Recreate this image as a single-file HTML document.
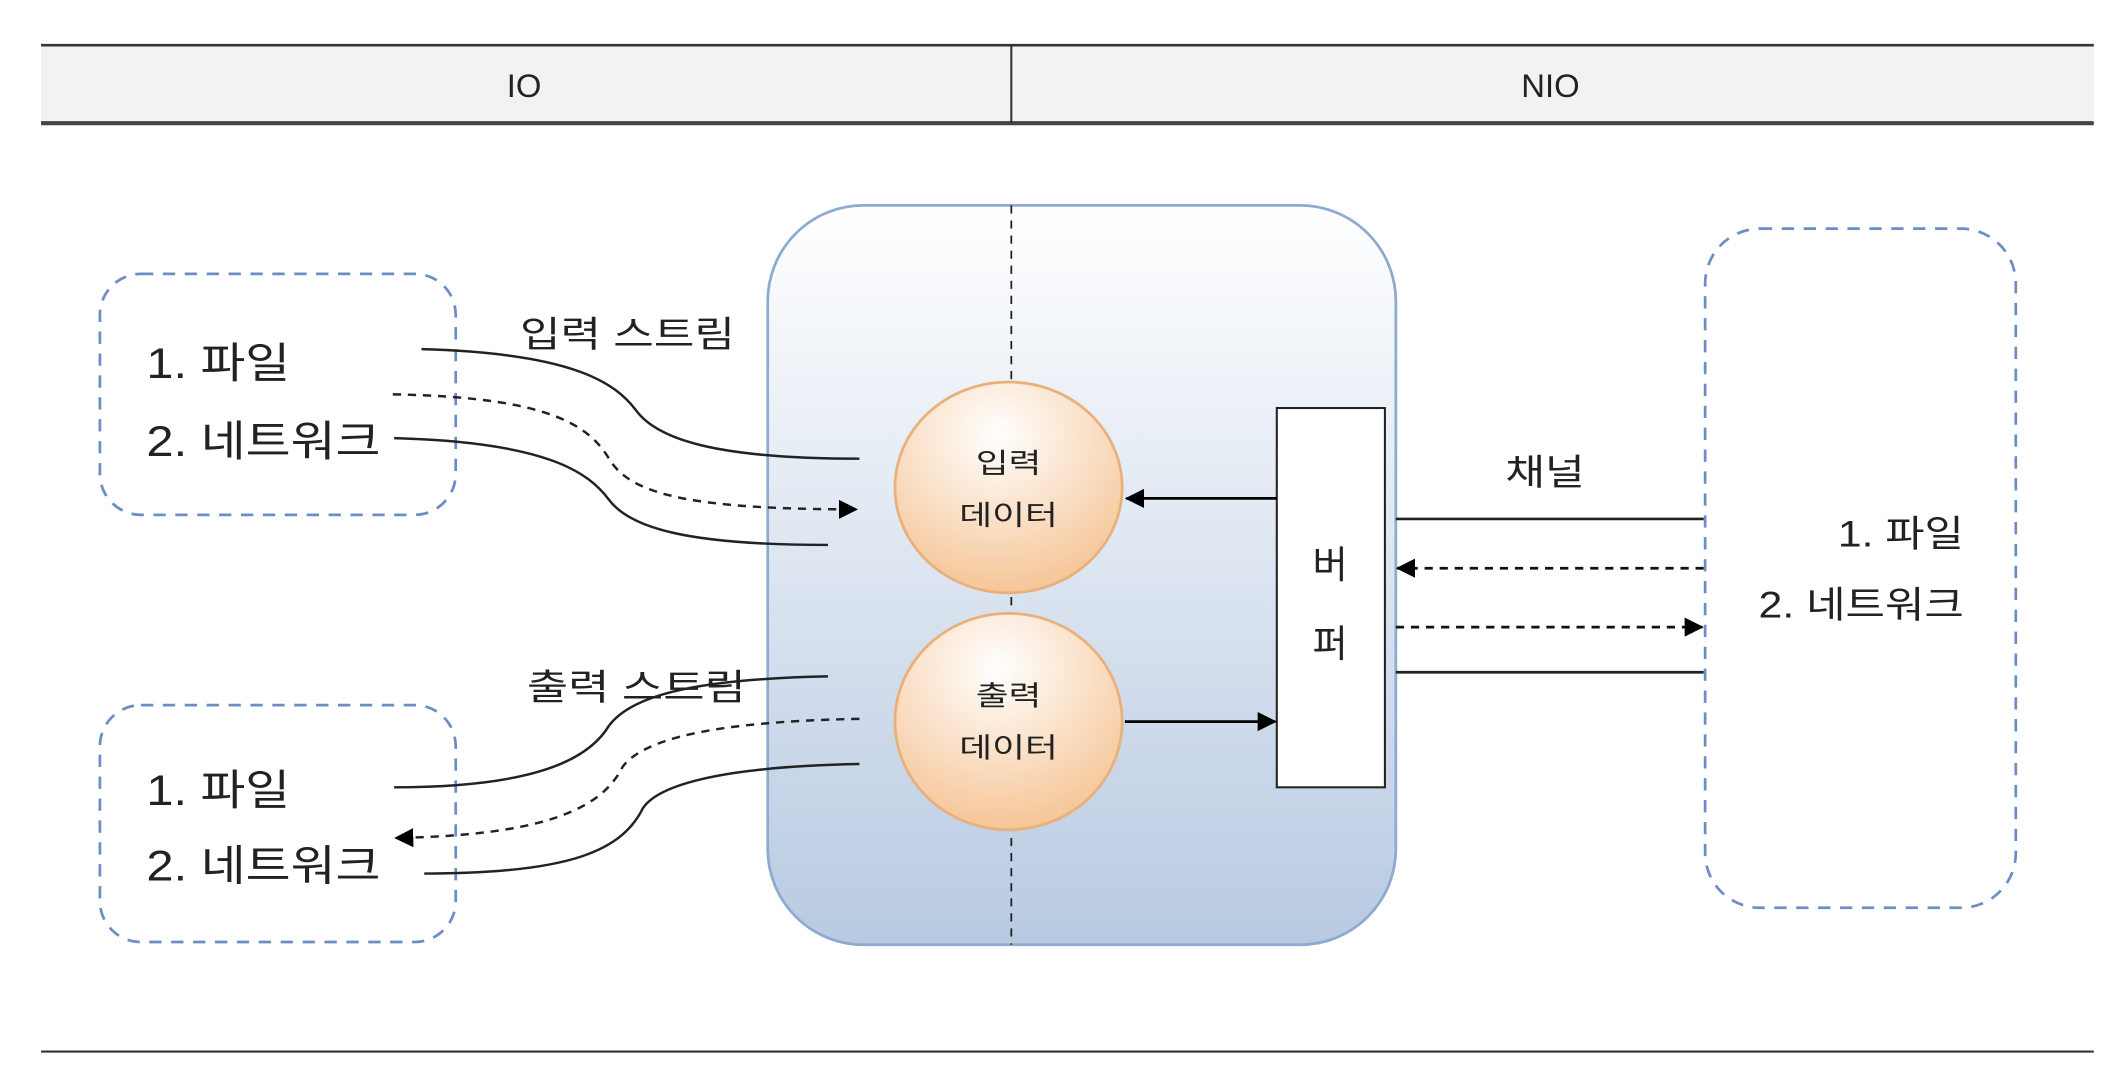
<!DOCTYPE html>
<html><head><meta charset="utf-8"><style>
html,body{margin:0;padding:0;background:#fff;}
svg{display:block;}
text{font-family:"Liberation Sans","Noto Sans CJK KR","NanumGothic",sans-serif;fill:#222;}
</style></head><body>
<svg width="2128" height="1068" viewBox="0 0 1555 780" preserveAspectRatio="none" xmlns="http://www.w3.org/2000/svg">
<defs>
<linearGradient id="bg" x1="0" y1="0" x2="0" y2="1">
<stop offset="0" stop-color="#ffffff"/><stop offset="1" stop-color="#b8cae2"/>
</linearGradient>
<radialGradient id="og" cx="0.45" cy="0.25" r="0.8">
<stop offset="0" stop-color="#ffffff"/><stop offset="1" stop-color="#f5c290"/>
</radialGradient>
<marker id="ah2" markerWidth="14" markerHeight="14" refX="13" refY="7" orient="auto" markerUnits="userSpaceOnUse">
<path d="M0,0 L14,7 L0,14 z" fill="#000"/>
</marker>
</defs>
<rect x="30" y="33" width="1500" height="58" fill="#f2f2f2"/>
<line x1="30" y1="33" x2="1530" y2="33" stroke="#333" stroke-width="2"/>
<line x1="30" y1="90" x2="1530" y2="90" stroke="#444" stroke-width="3"/>
<line x1="739" y1="33" x2="739" y2="90" stroke="#333" stroke-width="1.5"/>
<text x="383" y="71" font-size="24" text-anchor="middle">IO</text>
<text x="1133" y="71" font-size="24" text-anchor="middle">NIO</text>
<line x1="30" y1="768" x2="1530" y2="768" stroke="#333" stroke-width="1.5"/>

<rect x="561" y="150" width="459" height="540" rx="70" ry="70" fill="url(#bg)" stroke="#8eaad0" stroke-width="2"/>
<line x1="739" y1="150" x2="739" y2="690" stroke="#222" stroke-width="1.3" stroke-dasharray="6,5"/>

<ellipse cx="737" cy="356" rx="83" ry="77" fill="url(#og)" stroke="#e8b07a" stroke-width="2"/>
<ellipse cx="737" cy="527" rx="83" ry="79" fill="url(#og)" stroke="#e8b07a" stroke-width="2"/>
<text x="713" y="345" font-size="20" textLength="48" lengthAdjust="spacingAndGlyphs">입력</text>
<text x="701" y="383" font-size="20" textLength="72" lengthAdjust="spacingAndGlyphs">데이터</text>
<text x="713" y="515" font-size="20" textLength="48" lengthAdjust="spacingAndGlyphs">출력</text>
<text x="701" y="553" font-size="20" textLength="72" lengthAdjust="spacingAndGlyphs">데이터</text>

<rect x="933" y="298" width="79" height="277" fill="#fff" stroke="#222" stroke-width="1.5"/>
<text x="972" y="422" font-size="28" text-anchor="middle">버</text>
<text x="972" y="480" font-size="28" text-anchor="middle">퍼</text>
<line x1="933" y1="364" x2="823" y2="364" stroke="#000" stroke-width="2" marker-end="url(#ah2)"/>
<line x1="822" y1="527" x2="932" y2="527" stroke="#000" stroke-width="2" marker-end="url(#ah2)"/>

<text x="1100" y="354" font-size="26" textLength="58" lengthAdjust="spacingAndGlyphs">채널</text>
<line x1="1020" y1="379" x2="1245" y2="379" stroke="#222" stroke-width="2"/>
<line x1="1245" y1="415" x2="1021" y2="415" stroke="#111" stroke-width="2" stroke-dasharray="6,5" marker-end="url(#ah2)"/>
<line x1="1020" y1="458" x2="1244" y2="458" stroke="#111" stroke-width="2" stroke-dasharray="6,5" marker-end="url(#ah2)"/>
<line x1="1020" y1="491" x2="1245" y2="491" stroke="#222" stroke-width="2"/>

<rect x="1246" y="167" width="227" height="496" rx="40" ry="40" fill="none" stroke="#6b8fc4" stroke-width="2" stroke-dasharray="9,7"/>
<text x="1343" y="399" font-size="27" textLength="92" lengthAdjust="spacingAndGlyphs">1. 파일</text>
<text x="1285" y="451" font-size="27" textLength="150" lengthAdjust="spacingAndGlyphs">2. 네트워크</text>

<rect x="73" y="200" width="260" height="176" rx="30" ry="30" fill="none" stroke="#6b8fc4" stroke-width="2" stroke-dasharray="9,7"/>
<text x="107" y="276" font-size="31" textLength="105" lengthAdjust="spacingAndGlyphs">1. 파일</text>
<text x="107" y="333" font-size="31" textLength="171" lengthAdjust="spacingAndGlyphs">2. 네트워크</text>
<rect x="73" y="515" width="260" height="173" rx="30" ry="30" fill="none" stroke="#6b8fc4" stroke-width="2" stroke-dasharray="9,7"/>
<text x="107" y="588" font-size="31" textLength="105" lengthAdjust="spacingAndGlyphs">1. 파일</text>
<text x="107" y="643" font-size="31" textLength="171" lengthAdjust="spacingAndGlyphs">2. 네트워크</text>

<text x="380" y="253" font-size="26" textLength="157" lengthAdjust="spacingAndGlyphs">입력 스트림</text>
<path d="M308,255 C420,258 450,280 465,300 C480,320 520,335 628,335" fill="none" stroke="#222" stroke-width="1.8"/>
<path d="M287,288 C400,290 430,310 445,335 C460,360 500,372 626,372" fill="none" stroke="#222" stroke-width="1.8" stroke-dasharray="6,5" marker-end="url(#ah2)"/>
<path d="M288,320 C400,323 430,345 445,365 C460,385 500,398 605,398" fill="none" stroke="#222" stroke-width="1.8"/>

<text x="385" y="511" font-size="26" textLength="160" lengthAdjust="spacingAndGlyphs">출력 스트림</text>
<path d="M605,494 C500,496 460,510 445,530 C430,555 390,575 288,575" fill="none" stroke="#222" stroke-width="1.8"/>
<path d="M628,525 C520,527 470,540 455,560 C440,590 400,610 289,612" fill="none" stroke="#222" stroke-width="1.8" stroke-dasharray="6,5" marker-end="url(#ah2)"/>
<path d="M628,558 C520,560 480,575 470,590 C455,620 420,638 310,638" fill="none" stroke="#222" stroke-width="1.8"/>
</svg>
</body></html>
